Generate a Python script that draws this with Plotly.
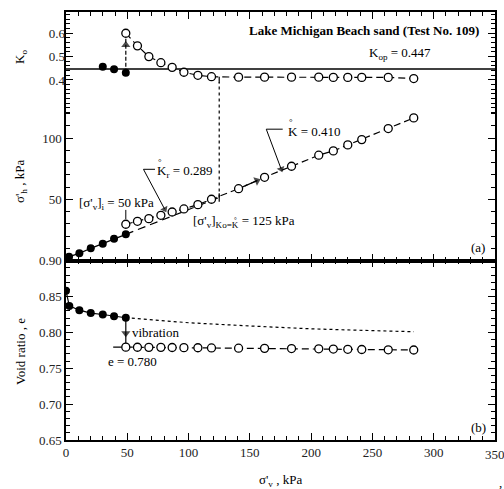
import plotly.graph_objects as go

# ---------------- data ----------------
sv_filled = [2.5, 10.9, 20.2, 30.0, 39.2, 48.8]
sh_filled = [3.3, 6.0, 10.1, 13.9, 17.9, 21.5]

k0_filled_sv = [30.0, 39.2, 48.8]
k0_filled = [0.457, 0.446, 0.431]

sv_open = [48.8, 58.3, 67.6, 77.4, 86.6, 96.2, 107.6, 118.7, 140.8, 162.0,
           184.0, 206.2, 218.1, 229.9, 241.3, 262.9, 283.7]
k0_open = [0.600, 0.546, 0.500, 0.474, 0.454, 0.433, 0.420, 0.414, 0.412, 0.412,
           0.412, 0.412, 0.411, 0.411, 0.411, 0.411, 0.406]
sh_open = [29.7, 32.1, 34.3, 37.0, 39.7, 42.2, 45.7, 50.1, 58.7, 68.0,
           77.0, 86.0, 89.5, 94.4, 98.7, 107.7, 116.4]

e_filled_sv = [0.0, 2.7, 10.9, 20.2, 30.0, 39.2, 48.8]
e_filled = [0.858, 0.837, 0.831, 0.827, 0.825, 0.8225, 0.8205]
e_open = [0.7795, 0.7793, 0.7792, 0.7792, 0.7790, 0.7788, 0.7786, 0.7784, 0.7780,
          0.7778, 0.7775, 0.7772, 0.7768, 0.7765, 0.7762, 0.7758, 0.7755]
e_ref_sv = [38.5, 48.8]
e_ref = [0.7795, 0.7795]
e_dotted_sv = [48.8, 100.0, 150.0, 200.0, 250.0, 283.7]
e_dotted = [0.8205, 0.8135, 0.8090, 0.8050, 0.8025, 0.8010]

K_OP = 0.447
SV_I = 48.8
SV_KK = 125.0
SH_KK = 51.5
K0_KK = 0.412

x_ticks = [0, 50, 100, 150, 200, 250, 300, 350]
e_ticks = [0.65, 0.70, 0.75, 0.80, 0.85, 0.90]
sh_ticks = [50, 100]
k0_ticks = [0.4, 0.5, 0.6]

# ---------------- axis geometry ----------------
SH_MAX = 202.7
K0_MIN, K0_MAX = -0.374, 0.691
SPLIT = 0.4189
X_MAX = 350


def k0_to_sh(k):
    return (k - K0_MIN) / (K0_MAX - K0_MIN) * SH_MAX


FONT = "Liberation Serif, Times New Roman, serif"
BLACK = "black"

fig = go.Figure()


def line(x, y, xa, ya, width=1.2, dash="solid"):
    fig.add_trace(go.Scatter(x=x, y=y, xaxis=xa, yaxis=ya, mode="lines", hoverinfo="skip",
                             line=dict(color=BLACK, width=width, dash=dash)))


def arrow(x, y, xa, ya, sizes, width=1.2, dash="solid", msize=8):
    # line with triangle heads oriented along the segment leading to each point
    fig.add_trace(go.Scatter(x=x, y=y, xaxis=xa, yaxis=ya, mode="lines+markers", hoverinfo="skip",
                             line=dict(color=BLACK, width=width, dash=dash),
                             marker=dict(symbol="triangle-up", size=[s * msize for s in sizes],
                                         angleref="previous", color=BLACK, line=dict(width=0))))


open_marker = dict(symbol="circle", size=8, color="white", line=dict(color=BLACK, width=1.3))
fill_marker = dict(symbol="circle", size=8, color=BLACK)

# top panel: sigma'h
fig.add_trace(go.Scatter(x=sv_filled, y=sh_filled, xaxis="x2", yaxis="y2", mode="lines+markers",
                         line=dict(color=BLACK, width=1.2), marker=fill_marker))
line([SV_I, SV_KK], [sh_filled[-1], SH_KK], "x2", "y2", dash="8px,5px")
fig.add_trace(go.Scatter(x=sv_open, y=sh_open, xaxis="x2", yaxis="y2", mode="lines+markers",
                         line=dict(color=BLACK, width=1.2, dash="7px,4px"), marker=open_marker))
line([SV_KK, SV_KK], [SH_KK, k0_to_sh(K0_KK - 0.022)], "x2", "y2", dash="dot")
line([SV_KK, SV_KK], [SH_KK - 3.5, SH_KK + 3.5], "x2", "y2")
line([SV_I, SV_I], [33.8, 41.4], "x2", "y2", width=1)
line([63.2, 72.6], [74.5, 74.5], "x2", "y2", width=1)
line([163.4, 176.8], [107.2, 107.2], "x2", "y2", width=1)
arrow([63.2, 80.5], [74.5, 42.0], "x2", "y2", [0, 1], width=1, msize=7)
arrow([163.4, 175.5], [107.2, 74.8], "x2", "y2", [0, 1], width=1, msize=7)
arrow([146.0, 155.8], [61.0, 65.2], "x2", "y2", [0, 1], msize=8)

# top panel: K0
line([0, X_MAX], [K_OP, K_OP], "x2", "y3", width=1.3)
fig.add_trace(go.Scatter(x=k0_filled_sv, y=k0_filled, xaxis="x2", yaxis="y3", mode="markers",
                         marker=fill_marker))
arrow([SV_I, SV_I, SV_I], [k0_filled[-1], 0.55, 0.585], "x2", "y3", [0, 1, 0], dash="4px,2px")
fig.add_trace(go.Scatter(x=sv_open, y=k0_open, xaxis="x2", yaxis="y3", mode="lines+markers",
                         line=dict(color=BLACK, width=1.2, dash="7px,4px"), marker=open_marker))
line([SV_KK, SV_KK], [K0_KK + 0.002, K0_KK - 0.026], "x2", "y3")

# bottom panel: void ratio
line(e_dotted_sv, e_dotted, "x", "y", dash="dot")
fig.add_trace(go.Scatter(x=e_filled_sv, y=e_filled, xaxis="x", yaxis="y", mode="lines+markers",
                         line=dict(color=BLACK, width=1.2), marker=fill_marker))
arrow([SV_I, SV_I, SV_I], [e_filled[-1], 0.799, e_open[0]], "x", "y", [0, 1, 0])
line(e_ref_sv, e_ref, "x", "y")
fig.add_trace(go.Scatter(x=sv_open, y=e_open, xaxis="x", yaxis="y", mode="lines+markers",
                         line=dict(color=BLACK, width=1.2, dash="7px,4px"), marker=open_marker))

# ---------------- axes ----------------
tickfont = dict(family=FONT, size=13, color="#222")
common_x = dict(range=[0, X_MAX], showline=True, linecolor=BLACK, linewidth=1.5, mirror="ticks",
                ticks="inside", ticklen=7, tickwidth=1, tickcolor=BLACK, tickvals=x_ticks,
                minor=dict(dtick=10, tick0=0, ticks="inside", ticklen=4, tickwidth=1, tickcolor=BLACK),
                showgrid=False, zeroline=False, fixedrange=True, automargin=False)

fig.update_layout(
    width=504, height=489,
    margin=dict(l=66, r=9, t=12, b=49, autoexpand=False),
    paper_bgcolor="white", plot_bgcolor="white",
    showlegend=False,
    font=dict(family=FONT, size=13, color=BLACK),
    xaxis=dict(**common_x, domain=[0, 1], anchor="y", tickfont=tickfont,
               ticktext=[str(v) for v in x_ticks]),
    xaxis2=dict(**common_x, domain=[0, 1], anchor="y2", matches="x", showticklabels=False),
    yaxis=dict(domain=[0, SPLIT], anchor="x", range=[0.65, 0.90], showline=True, linecolor=BLACK,
               linewidth=1.5, mirror="ticks", ticks="inside", ticklen=7, tickwidth=1, tickcolor=BLACK,
               tickvals=e_ticks, ticktext=["%.2f" % v for v in e_ticks], tickfont=tickfont,
               minor=dict(dtick=0.01, tick0=0.65, ticks="inside", ticklen=4, tickwidth=1, tickcolor=BLACK),
               showgrid=False, zeroline=False, fixedrange=True, automargin=False),
    yaxis2=dict(domain=[SPLIT, 1], anchor="x2", range=[0, SH_MAX], showline=True, linecolor=BLACK,
                linewidth=1.5, mirror="ticks", ticks="inside", ticklen=7, tickwidth=1, tickcolor=BLACK,
                tickvals=sh_ticks, ticktext=[str(v) for v in sh_ticks], tickfont=tickfont,
                minor=dict(tickmode="array", tickvals=[v for v in range(10, 130, 10) if v not in sh_ticks],
                           ticks="inside", ticklen=4, tickwidth=1, tickcolor=BLACK),
                showgrid=False, zeroline=False, fixedrange=True, automargin=False),
    yaxis3=dict(overlaying="y2", anchor="x2", side="left", range=[K0_MIN, K0_MAX], showline=False,
                mirror="ticks", ticks="inside", ticklen=7, tickwidth=1, tickcolor=BLACK,
                tickvals=k0_ticks, ticktext=["%.1f" % v for v in k0_ticks], tickfont=tickfont,
                minor=dict(tickmode="array",
                           tickvals=[round(0.26 + 0.02 * i, 2) for i in range(22)
                                     if round(0.26 + 0.02 * i, 2) not in k0_ticks],
                           ticks="inside", ticklen=4, tickwidth=1, tickcolor=BLACK),
                showgrid=False, zeroline=False, fixedrange=True, automargin=False),
)

# the last x tick label sits on the figure edge; plotly hides it, so draw it as an annotation
fig.add_annotation(x=X_MAX, y=0, xref="x", yref="paper", text=str(x_ticks[-1]), showarrow=False,
                   xanchor="center", yanchor="top", yshift=-5, font=tickfont)


# ---------------- annotations ----------------
def px(xp, yp):
    return (xp - 66) / 429.0, (440 - yp) / 428.0


def text(xp, yp, s, xanchor="left", size=13, angle=0, bold=False):
    x, y = px(xp, yp)
    fig.add_annotation(x=x, y=y, xref="paper", yref="paper", text=("<b>%s</b>" % s) if bold else s,
                       showarrow=False, xanchor=xanchor, yanchor="middle", textangle=angle,
                       font=dict(family=FONT, size=size, color=BLACK))


text(364, 31, "Lake Michigan Beach sand (Test No. 109)", xanchor="center", size=13, bold=True)
text(367, 53, "K<sub>op</sub> = 0.447")
text(478, 248, "(a)", xanchor="center")
text(478, 427, "(b)", xanchor="center")
text(155, 171, "K<sub>r</sub> = 0.289")
text(160, 162, "°", xanchor="center", size=9)
text(286, 131, "K = 0.410")
text(291, 122, "°", xanchor="center", size=9)
text(191, 221, "[σ'<sub>v</sub>]<sub>Ko=K</sub> = 125 kPa")
text(235, 220, "°", xanchor="center", size=7)
text(77, 203, "[σ'<sub>v</sub>]<sub>i</sub> = 50 kPa")
text(130, 332, "vibration")
text(106, 361, "e = 0.780")
text(20, 57, "K<sub>o</sub>", xanchor="center", angle=-90)
text(20, 182, "σ'<sub>h</sub> , kPa", xanchor="center", angle=-90)
text(20, 352, "Void ratio , e", xanchor="center", angle=-90)
text(280, 481, "σ'<sub>v</sub> , kPa", xanchor="center")
text(500, 482, ",", xanchor="center")

POST = ("document.documentElement.style.margin='0';document.documentElement.style.overflow='hidden';"
        "document.body.style.margin='0';document.body.style.overflow='hidden';"
        "document.body.style.height='489px';"
        "var g=document.getElementById('{plot_id}');g.parentElement.style.height='489px';"
        "g.parentElement.style.overflow='hidden';")
fig.write_html("out.html", config={"displayModeBar": False}, post_script=POST)
